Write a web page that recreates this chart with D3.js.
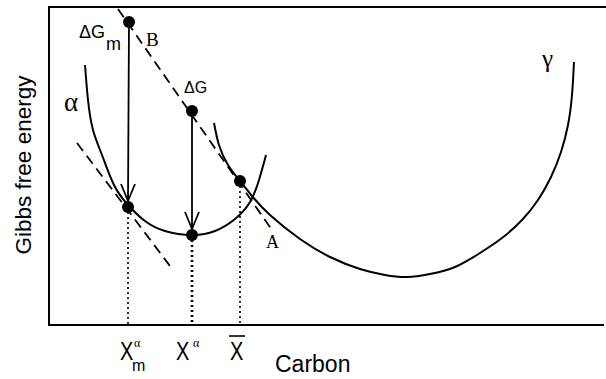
<!DOCTYPE html>
<html>
<head>
<meta charset="utf-8">
<script src="https://cdn.jsdelivr.net/npm/d3@7"></script>
<style>
  body { margin: 0; background: #fff; }
  text { font-family: "Liberation Sans", Arial, sans-serif; fill: #000; }
  .serif { font-family: "Liberation Serif", "Times New Roman", serif; }
</style>
</head>
<body>
<div class="canvas"></div>
<script>
/**
 * Data (chart units: carbon along x, free energy up y)
 */
const alphaCurve = [
    [36, 260], [39, 225], [44, 195], [53, 170], [65, 140], [79, 120], [96, 104],
    [116, 94], [143, 90], [166, 94], [186, 106], [201, 123], [210, 145], [217, 170]
]
const gammaCurve = [
    [165, 202], [170, 180], [179, 160], [191, 144], [203, 129], [221, 110], [251, 86],
    [281, 68], [311, 56], [336, 50], [358, 48], [381, 51], [406, 58], [431, 72],
    [453, 87], [473, 105], [489, 125], [502, 148], [512, 173], [519, 200], [523, 230], [525, 263]
]
const tangents = [
    { from: [69, 316], to: [223, 95] },
    { from: [28, 182], to: [121, 59] }
]
const dots = [[80, 303], [143, 214], [79, 118], [143, 90], [191, 144]]
const arrows = [
    { from: [80, 303], to: [79, 118] },
    { from: [143, 214], to: [143, 90] }
]
const drops = [
    { x: 79, top: 118, w: 1.6 },
    { x: 143, top: 90, w: 2.6 },
    { x: 191, top: 144, w: 1.6 }
]

/**
 * Dimensions
 */
const dims = { width: 606, height: 379 }
const frame = { left: 49, top: 7, bottom: 325, right: 604 }

const svg = d3.select(".canvas")
    .append("svg")
    .attr("width", dims.width)
    .attr("height", dims.height)

const x = d3.scaleLinear().domain([0, 555]).range([frame.left, frame.right])
const y = d3.scaleLinear().domain([0, 318]).range([frame.bottom, frame.top])

// axes frame (top, left, bottom only)
svg.append("path")
    .attr("fill", "none")
    .attr("stroke", "#000")
    .attr("stroke-width", 2)
    .attr("d", `M${dims.width},${frame.top} H${frame.left} V${frame.bottom} H${frame.right}`)

const line = d3.line()
    .x(d => x(d[0]))
    .y(d => y(d[1]))
    .curve(d3.curveNatural)

// free energy curves
;[alphaCurve, gammaCurve].forEach(c => {
    svg.append("path")
        .attr("fill", "none")
        .attr("stroke", "#000")
        .attr("stroke-width", 2)
        .attr("d", line(c))
})

// dashed tangents
svg.selectAll(".tangent")
    .data(tangents)
    .enter()
    .append("line")
    .attr("class", "tangent")
    .attr("x1", d => x(d.from[0])).attr("y1", d => y(d.from[1]))
    .attr("x2", d => x(d.to[0])).attr("y2", d => y(d.to[1]))
    .attr("stroke", "#000")
    .attr("stroke-width", 1.8)
    .attr("stroke-dasharray", "10,6")

// dotted drop lines
svg.selectAll(".drop")
    .data(drops)
    .enter()
    .append("line")
    .attr("class", "drop")
    .attr("x1", d => x(d.x)).attr("x2", d => x(d.x))
    .attr("y1", d => y(d.top)).attr("y2", frame.bottom)
    .attr("stroke", "#000")
    .attr("stroke-width", d => d.w)
    .attr("stroke-dasharray", "2,3")

// arrows with open heads
arrows.forEach(a => {
    const x1 = x(a.from[0]), y1 = y(a.from[1])
    const x2 = x(a.to[0]), y2 = y(a.to[1]) - 6
    svg.append("line")
        .attr("x1", x1).attr("y1", y1).attr("x2", x2).attr("y2", y2)
        .attr("stroke", "#000").attr("stroke-width", 1.8)
    svg.append("path")
        .attr("fill", "none")
        .attr("stroke", "#000")
        .attr("stroke-width", 1.8)
        .attr("d", `M${x2 - 7},${y2 - 17} L${x2},${y2} L${x2 + 7},${y2 - 17}`)
})

// dots
svg.selectAll(".dot")
    .data(dots)
    .enter()
    .append("circle")
    .attr("class", "dot")
    .attr("cx", d => x(d[0]))
    .attr("cy", d => y(d[1]))
    .attr("r", 6)
    .attr("fill", "#000")

/**
 * Labels
 */
const label = (px, py, txt, size, cls) => svg.append("text")
    .attr("x", px).attr("y", py)
    .attr("font-size", size)
    .attr("class", cls || null)
    .text(txt)

label(79, 38, "ΔG", 18)
label(106, 50, "m", 18)
label(146, 46, "B", 19, "serif")
label(184, 93, "ΔG", 16)
label(64, 111, "α", 27, "serif")
label(266, 248, "A", 18, "serif")
label(542, 67, "γ", 25, "serif")

// composition labels under the axis (tall narrow x)
const bigX = (px) => svg.append("text")
    .attr("transform", `translate(${px},360) scale(0.8,1)`)
    .attr("font-size", 25)
    .text("X")
bigX(120)
label(134, 347, "α", 12, "serif")
label(132, 371, "m", 16)
bigX(176)
label(193, 347, "α", 12, "serif")
bigX(230)
svg.append("line")
    .attr("x1", 229).attr("x2", 245)
    .attr("y1", 336).attr("y2", 336)
    .attr("stroke", "#000").attr("stroke-width", 1.6)

label(275, 372, "Carbon", 23)

svg.append("text")
    .attr("transform", "translate(31,165) rotate(-90)")
    .attr("text-anchor", "middle")
    .attr("font-size", 22.5)
    .text("Gibbs free energy")
</script>
</body>
</html>
